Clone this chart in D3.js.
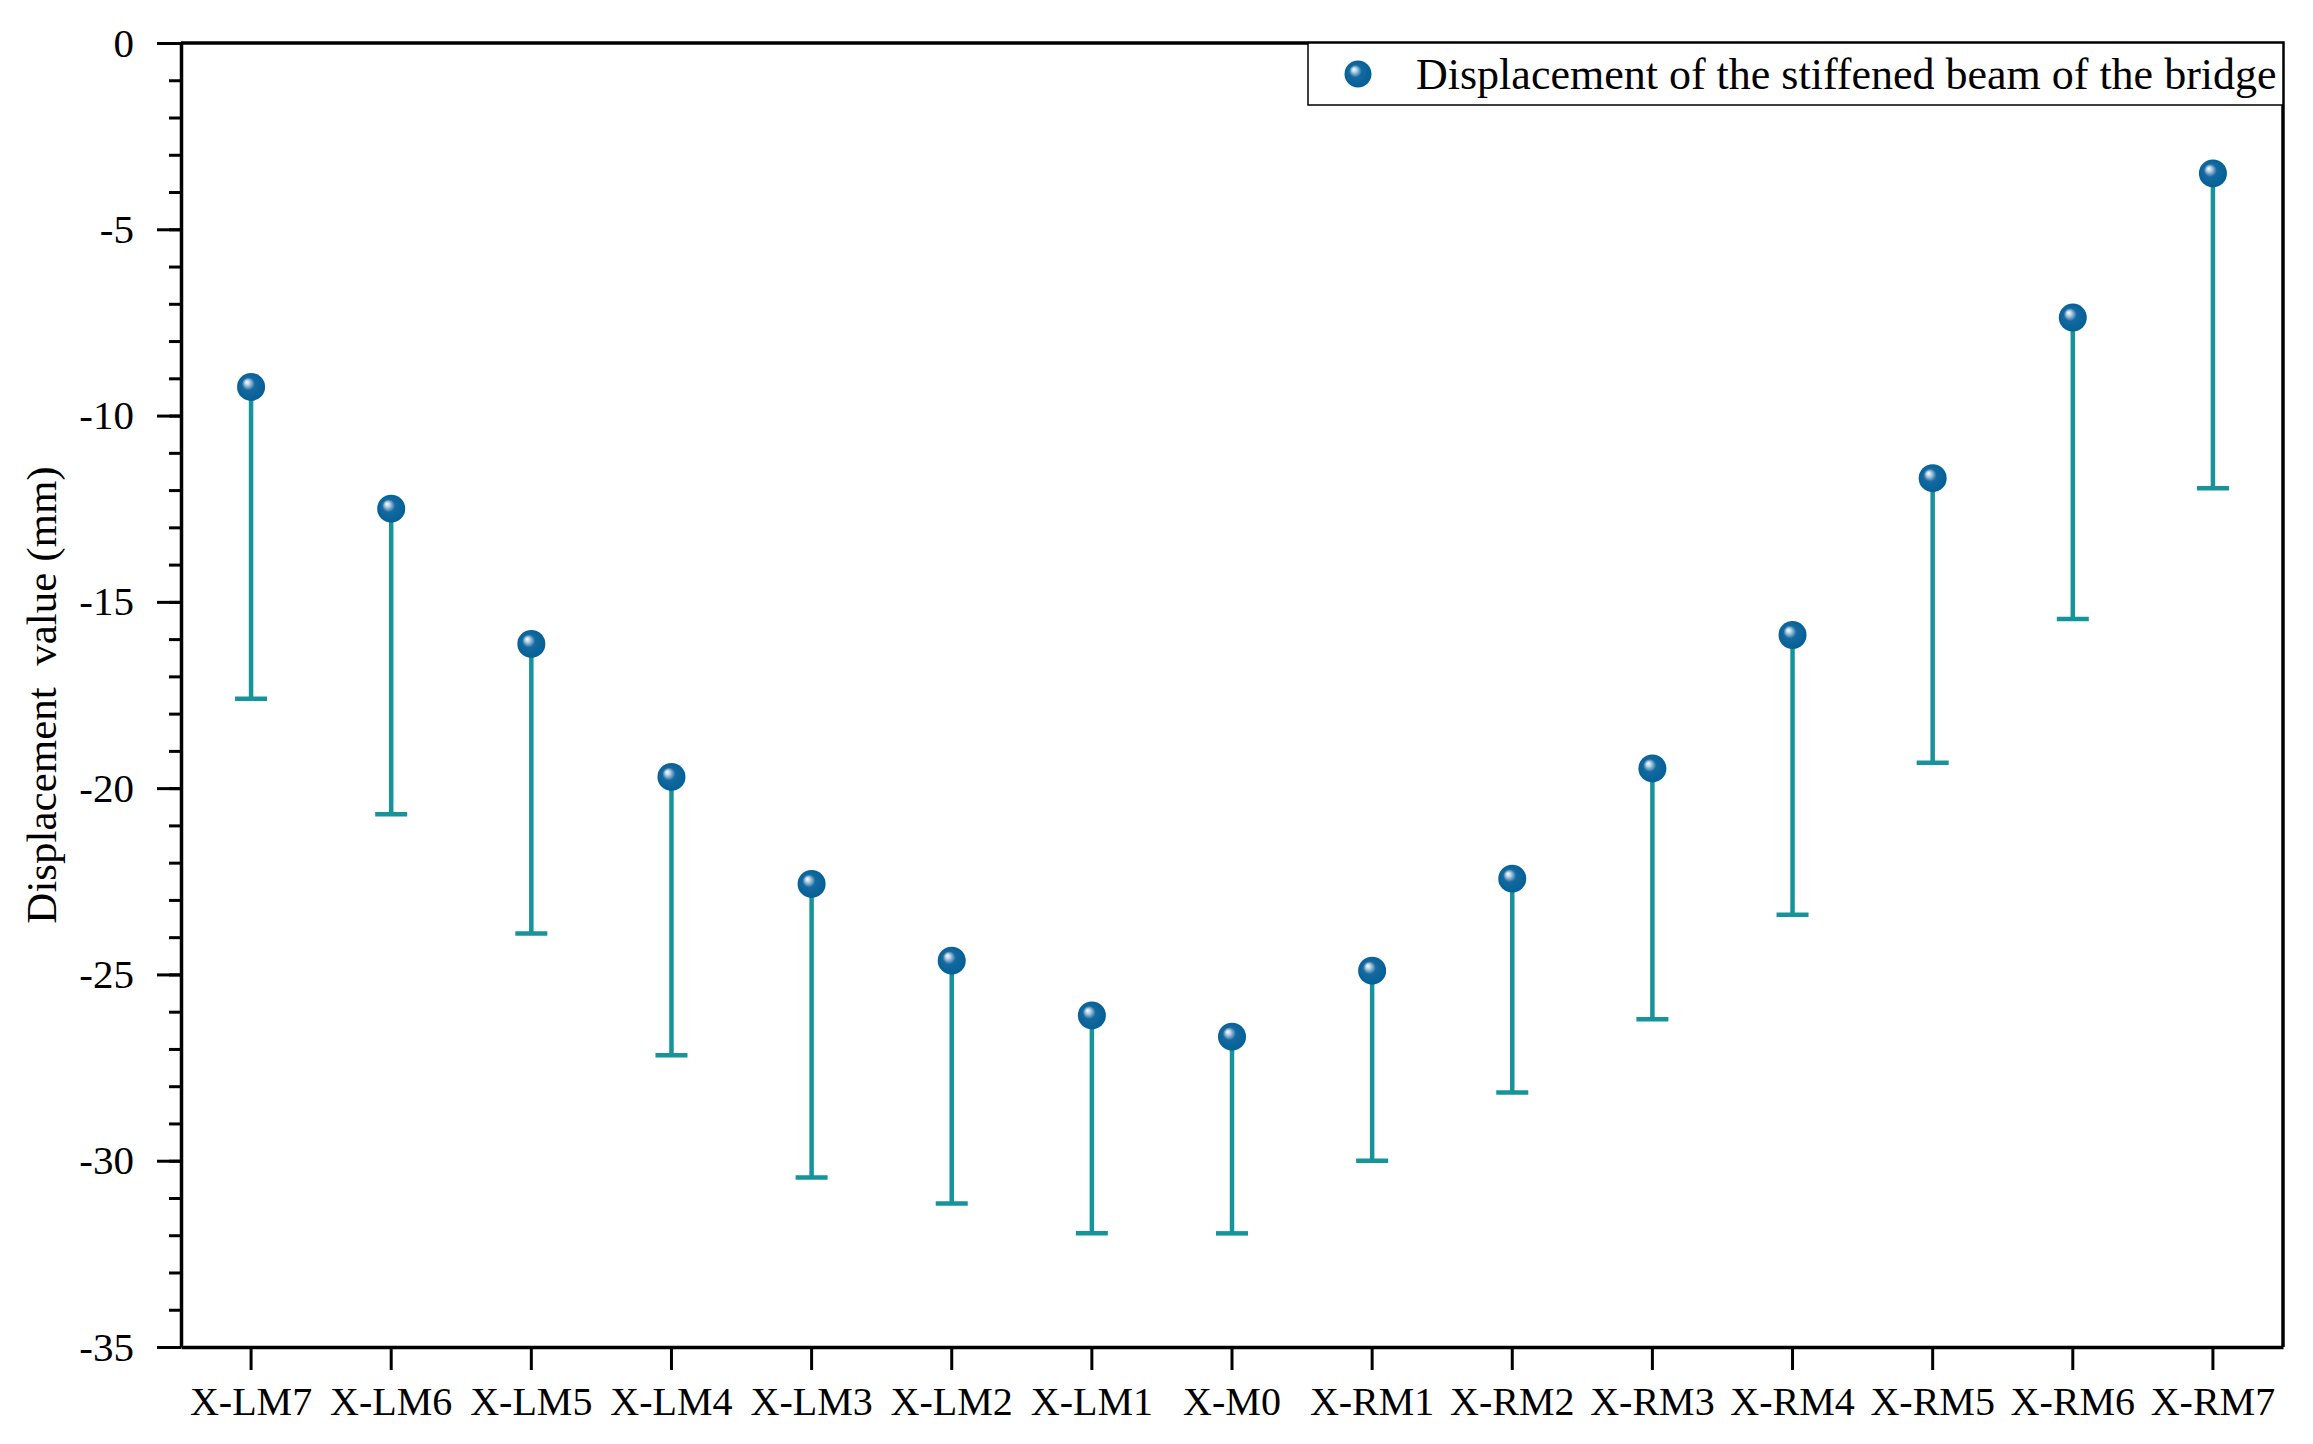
<!DOCTYPE html>
<html>
<head>
<meta charset="utf-8">
<script src="https://cdn.jsdelivr.net/npm/d3@7"></script>
<style>
  body { margin: 0; background: #fff; }
  text { font-family: "Liberation Serif", "Times New Roman", serif; fill: #000; }
</style>
</head>
<body>
<svg id="chart"></svg>
<script>
// Points along the stiffened beam, left to right
const points = ["X-LM7", "X-LM6", "X-LM5", "X-LM4", "X-LM3", "X-LM2", "X-LM1", "X-M0",
                "X-RM1", "X-RM2", "X-RM3", "X-RM4", "X-RM5", "X-RM6", "X-RM7"];
// displacement (mm) at the marker
const displacement = [-9.23, -12.5, -16.13, -19.7, -22.57, -24.63, -26.1, -26.67,
                      -24.9, -22.43, -19.47, -15.89, -11.68, -7.37, -3.5];
// lower end of the error bar (mm)
const lowerEnd = [-17.6, -20.7, -23.9, -27.17, -30.45, -31.15, -31.95, -31.95,
                  -30.0, -28.17, -26.2, -23.4, -19.32, -15.46, -11.95];
const yTicks = [0, -5, -10, -15, -20, -25, -30, -35];
const yLabel = "Displacement  value (mm)";
const legendLabel = "Displacement of the stiffened beam of the bridge";

let width = 2313, height = 1444;
let margin = { top: 43, right: 30, bottom: 97, left: 181 };

const svg = d3.select("#chart").attr("width", width).attr("height", height);

// sphere look for the markers
const grad = svg.append("defs").append("radialGradient")
    .attr("id", "ball")
    .attr("cx", "50%").attr("cy", "50%").attr("r", "55%")
    .attr("fx", "34%").attr("fy", "32%");
grad.append("stop").attr("offset", "0%").attr("stop-color", "#ffffff");
grad.append("stop").attr("offset", "16%").attr("stop-color", "#b9d2e4");
grad.append("stop").attr("offset", "42%").attr("stop-color", "#1569a0");
grad.append("stop").attr("offset", "100%").attr("stop-color", "#005f95");

const x = d3.scaleBand()
    .domain(points)
    .range([margin.left, width - margin.right]);
const y = d3.scaleLinear()
    .domain([-35, 0])
    .range([height - margin.bottom, margin.top]);

const cx = d => x(d) + x.bandwidth() / 2;

makeAxes = () => {
    // minor ticks every 1 mm
    svg.append("g")
        .attr("transform", `translate(${margin.left},0)`)
        .call(d3.axisLeft(y).tickValues(d3.range(-35, 1, 1)).tickSize(12).tickFormat(""))
        .call(g => g.select(".domain").remove())
        .call(g => g.selectAll("line").attr("stroke-width", 3));

    svg.append("g")
        .attr("transform", `translate(${margin.left},0)`)
        .call(d3.axisLeft(y).tickValues(yTicks).tickSize(24).tickPadding(23)
            .tickSizeOuter(0).tickFormat(d => String(d)))
        .call(g => g.select(".domain").attr("stroke-width", 3.5))
        .call(g => g.selectAll("line").attr("stroke-width", 3))
        .call(g => g.selectAll("text").attr("font-size", "41px")
            .attr("font-family", "Liberation Serif, serif"));

    svg.append("g")
        .attr("transform", `translate(0,${height - margin.bottom})`)
        .call(d3.axisBottom(x).tickSize(23).tickPadding(17).tickSizeOuter(0))
        .call(g => g.select(".domain").attr("stroke-width", 3.5))
        .call(g => g.selectAll("line").attr("stroke-width", 3))
        .call(g => g.selectAll("text").attr("font-size", "40px")
            .attr("font-family", "Liberation Serif, serif"));

    // top and right frame
    svg.append("path")
        .attr("d", `M${margin.left},${margin.top}H${width - margin.right}V${height - margin.bottom}`)
        .attr("fill", "none")
        .attr("stroke", "#000")
        .attr("stroke-width", 3.5);

    svg.append("text")
        .attr("transform", `translate(56,${(margin.top + height - margin.bottom) / 2}) rotate(-90)`)
        .attr("text-anchor", "middle")
        .attr("font-size", "43px")
        .style("white-space", "pre")
        .text(yLabel);
}

appendErrorBars = () => {
    const bars = svg.append("g")
        .attr("stroke", "#17939a")
        .attr("stroke-width", 4.5)
        .selectAll("g")
        .data(points)
        .join("g");
    bars.append("line")
        .attr("x1", d => cx(d)).attr("x2", d => cx(d))
        .attr("y1", (d, i) => y(displacement[i]))
        .attr("y2", (d, i) => y(lowerEnd[i]));
    bars.append("line")
        .attr("x1", d => cx(d) - 16).attr("x2", d => cx(d) + 16)
        .attr("y1", (d, i) => y(lowerEnd[i]))
        .attr("y2", (d, i) => y(lowerEnd[i]));
}

appendMarkers = () => {
    svg.append("g")
        .selectAll("circle")
        .data(points)
        .join("circle")
        .attr("cx", d => cx(d))
        .attr("cy", (d, i) => y(displacement[i]))
        .attr("r", 14)
        .attr("fill", "url(#ball)");
}

appendLegend = () => {
    const lg = svg.append("g");
    lg.append("rect")
        .attr("x", 1308).attr("y", margin.top)
        .attr("width", width - margin.right - 1308).attr("height", 62)
        .attr("fill", "#fff")
        .attr("stroke", "#000")
        .attr("stroke-width", 1.5);
    lg.append("circle")
        .attr("cx", 1358).attr("cy", 74).attr("r", 13.5)
        .attr("fill", "url(#ball)");
    lg.append("text")
        .attr("x", 1416).attr("y", 89)
        .attr("font-size", "44px")
        .text(legendLabel);
}

makeAxes();
appendErrorBars();
appendMarkers();
appendLegend();
</script>
</body>
</html>
